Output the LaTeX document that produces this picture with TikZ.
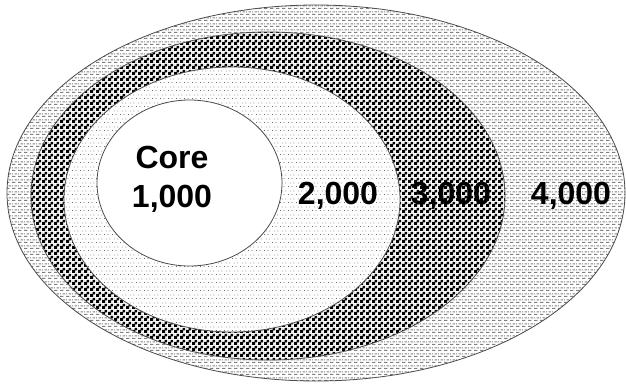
\documentclass[tikz,border=0pt]{standalone}
\usepackage{fontspec}
\setmainfont{Liberation Sans}
\usetikzlibrary{patterns}
\pgfdeclarepatternformonly{mychecker}{\pgfqpoint{0pt}{0pt}}{\pgfqpoint{6pt}{6pt}}{\pgfqpoint{6pt}{6pt}}{%
  \pgfpathrectangle{\pgfqpoint{0pt}{0pt}}{\pgfqpoint{3.5pt}{3.5pt}}%
  \pgfpathrectangle{\pgfqpoint{3pt}{3pt}}{\pgfqpoint{3pt}{3pt}}%
  \pgfpathrectangle{\pgfqpoint{0pt}{5.5pt}}{\pgfqpoint{0.5pt}{0.5pt}}%
  \pgfpathrectangle{\pgfqpoint{5.5pt}{0pt}}{\pgfqpoint{0.5pt}{0.5pt}}%
  \pgfusepath{fill}}
\pgfdeclarepatternformonly{mydashes}{\pgfqpoint{0pt}{0pt}}{\pgfqpoint{6pt}{6pt}}{\pgfqpoint{6pt}{6pt}}{%
  \pgfpathrectangle{\pgfqpoint{0pt}{0pt}}{\pgfqpoint{4pt}{1.2pt}}%
  \pgfpathrectangle{\pgfqpoint{3pt}{3pt}}{\pgfqpoint{3pt}{1.2pt}}%
  \pgfpathrectangle{\pgfqpoint{0pt}{3pt}}{\pgfqpoint{1pt}{1.2pt}}%
  \pgfusepath{fill}}
\pgfdeclarepatternformonly{mydots}{\pgfqpoint{0pt}{0pt}}{\pgfqpoint{8pt}{8pt}}{\pgfqpoint{8pt}{8pt}}{%
  \pgfpathrectangle{\pgfqpoint{0pt}{0pt}}{\pgfqpoint{1pt}{1pt}}%
  \pgfpathrectangle{\pgfqpoint{4pt}{0pt}}{\pgfqpoint{1pt}{1pt}}%
  \pgfpathrectangle{\pgfqpoint{2pt}{4pt}}{\pgfqpoint{1pt}{1pt}}%
  \pgfpathrectangle{\pgfqpoint{6pt}{4pt}}{\pgfqpoint{1pt}{1pt}}%
  \pgfusepath{fill}}
\tikzset{
  ring/.style={draw=black!70, line width=0.8pt, preaction={fill=white}},
  lbl/.style={font=\fontsize{32}{39}\selectfont\bfseries, align=center, inner sep=0pt}
}
\begin{document}
\begin{tikzpicture}[x=1pt,y=-1pt]
\useasboundingbox (0,0) rectangle (626,386);
\path[ring, pattern=mydashes, pattern color=black!50] (316,193) ellipse [x radius=309pt, y radius=188pt];
\path[ring, pattern=mychecker, pattern color=black] (268,196) ellipse [x radius=237pt, y radius=164pt];
\path[ring, pattern=mydots, pattern color=black!60] (232,199.5) ellipse [x radius=168pt, y radius=132.5pt];
\path[draw=black!70, line width=0.8pt, fill=white] (189.5,183) ellipse [x radius=92.5pt, y radius=83pt];
\node[lbl] (core) at (172,179) {Core\\1,000};
\node[lbl] (n2) at (338,196) {2,000};
\node[lbl] (n3) at (451,196) {3,000};
\node[lbl] (n4) at (571,196) {4,000};
\end{tikzpicture}
\end{document}
